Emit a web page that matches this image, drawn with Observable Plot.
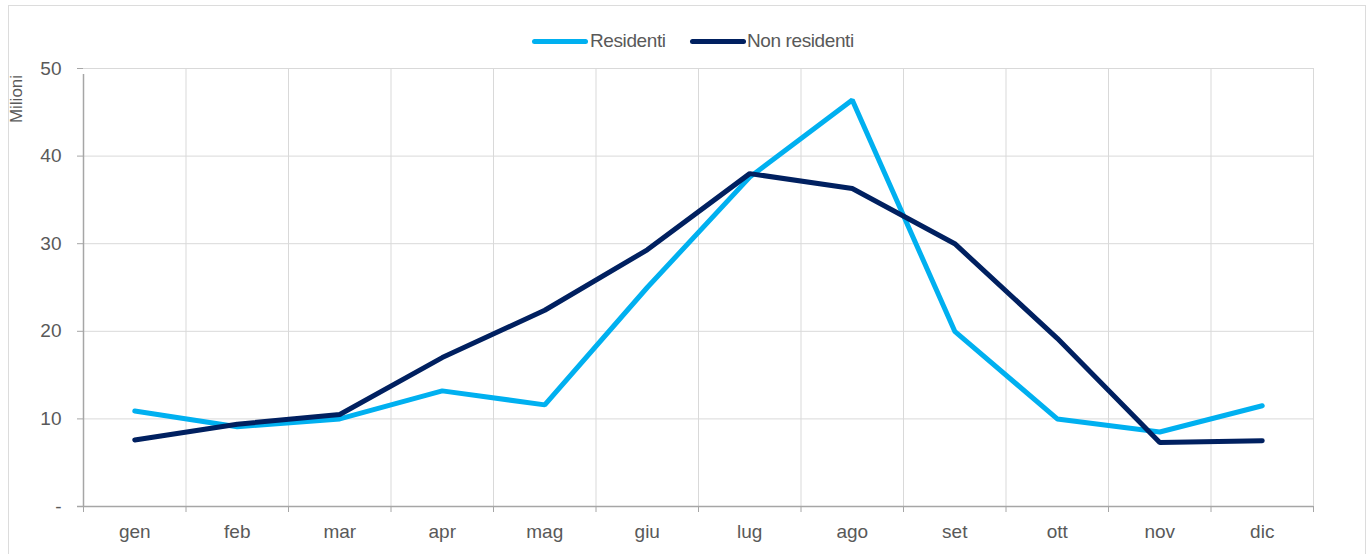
<!DOCTYPE html>
<html>
<head>
<meta charset="utf-8">
<script src="https://cdn.jsdelivr.net/npm/d3@7"></script>
<script src="https://cdn.jsdelivr.net/npm/@observablehq/plot@0.6"></script>
<style>
  html, body { margin: 0; padding: 0; background: #fff; }
  #wrap { position: relative; width: 1370px; height: 554px; overflow: hidden;
          font-family: "Liberation Sans Narrow", "Arial Narrow", "Liberation Sans", Arial, sans-serif; color: #595959; }
  #frame { position: absolute; left: 8px; top: 5px; width: 1358px; height: 600px; border: 1px solid #dcdcdc; box-sizing: border-box; }
  #legend { position: absolute; left: 0; top: 0; width: 1370px; height: 44px; }
  .lg { position: absolute; top: 30px; font-size: 19px; line-height: 22px; letter-spacing: -0.4px; }
  .sw { position: absolute; top: 39px; height: 5px; border-radius: 3px; }
  #ylab { position: absolute; left: 17px; top: 99px; font-size: 17px; transform: translate(-50%, -50%) rotate(-90deg); white-space: nowrap; }
  #chart { position: absolute; left: 0; top: 44px; }
</style>
</head>
<body>
<div id="wrap">
  <div id="frame"></div>
  <div id="chart"></div>
  <div id="legend"></div>
  <div id="ylab">Milioni</div>
</div>
<script>
const months = ["gen","feb","mar","apr","mag","giu","lug","ago","set","ott","nov","dic"];
const residenti = [10.9, 9.1, 10.0, 13.2, 11.6, 25.0, 37.6, 46.4, 20.0, 10.0, 8.5, 11.5];
const nonResidenti = [7.6, 9.4, 10.5, 17.0, 22.4, 29.3, 38.0, 36.3, 30.0, 19.2, 7.3, 7.5];
const yTicks = [0, 10, 20, 30, 40, 50];
const seriesNames = ["Residenti", "Non residenti"];
const seriesColors = ["#00B0F0", "#002060"];

const idx = months.map((m, i) => i);
const bounds = d3.range(-0.5, months.length, 1);
const rows = [];
months.forEach((m, i) => {
  rows.push({i, month: m, series: seriesNames[0], v: residenti[i]});
  rows.push({i, month: m, series: seriesNames[1], v: nonResidenti[i]});
});

// legend
const legend = document.getElementById("legend");
const lgPos = [{sw: 532, tx: 590}, {sw: 690, tx: 747}];
seriesNames.forEach((s, k) => {
  const sw = document.createElement("div");
  sw.className = "sw";
  sw.style.left = lgPos[k].sw + "px";
  sw.style.width = "56px";
  sw.style.background = seriesColors[k];
  legend.appendChild(sw);
  const t = document.createElement("div");
  t.className = "lg";
  t.style.left = lgPos[k].tx + "px";
  t.textContent = s;
  legend.appendChild(t);
});

const font = "'Liberation Sans Narrow', 'Arial Narrow', 'Liberation Sans', Arial, sans-serif";
const chart = Plot.plot({
  width: 1370,
  height: 510,
  marginTop: 24,
  marginBottom: 48,
  marginLeft: 83,
  marginRight: 57,
  style: {fontFamily: font, fontSize: "19px", color: "#595959", background: "transparent"},
  x: {type: "linear", domain: [-0.5, months.length - 0.5], axis: null, label: null},
  y: {domain: [0, 50], axis: null, label: null},
  color: {domain: seriesNames, range: seriesColors},
  marks: [
    Plot.ruleY(yTicks.filter(d => d > 0), {stroke: "#d9d9d9", strokeWidth: 1}),
    Plot.ruleX(bounds.slice(1), {y1: 0, y2: 50, stroke: "#d9d9d9", strokeWidth: 1}),
    Plot.ruleX([-0.5], {y1: 0, y2: 50, insetBottom: -6, stroke: "#a6a6a6", strokeWidth: 1.5}),
    Plot.ruleY([0], {x1: -0.5, x2: months.length - 0.5, insetLeft: -6, stroke: "#a6a6a6", strokeWidth: 1.5}),
    Plot.axisY(yTicks, {anchor: "left", label: null, tickSize: 6, tickPadding: 16, stroke: "#a6a6a6", fill: "#595959",
      tickFormat: d => d === 0 ? "-" : String(d), fontSize: 19}),
    Plot.axisX(bounds, {anchor: "bottom", label: null, tickSize: 6, stroke: "#a6a6a6", tickFormat: () => ""}),
    Plot.axisX(idx, {anchor: "bottom", label: null, tickSize: 0, tickPadding: 18, fill: "#595959",
      tickFormat: i => months[i], fontSize: 19}),
    Plot.line(rows, {x: "i", y: "v", z: "series", stroke: "series", strokeWidth: 5, strokeLinejoin: "miter", strokeLinecap: "round"})
  ]
});
document.getElementById("chart").appendChild(chart);
</script>
</body>
</html>
